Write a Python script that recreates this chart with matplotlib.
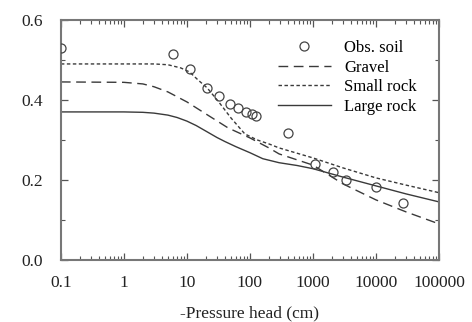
import numpy as np
import matplotlib
matplotlib.use("Agg")
import matplotlib.pyplot as plt
from matplotlib.ticker import FixedLocator, FixedFormatter, LogLocator, MultipleLocator

plt.rcParams['font.family'] = ['Liberation Serif', 'DejaVu Serif']

# observed soil data (pressure head cm, water content)
obs_h = [0.1, 6, 11, 21, 32, 48, 65, 87, 107, 125, 400, 1070, 2100, 3300, 10000, 27000]
obs_theta = [0.53, 0.515, 0.478, 0.43, 0.41, 0.39, 0.38, 0.37, 0.365, 0.36,
             0.318, 0.24, 0.22, 0.20, 0.183, 0.143]

# fitted curves
gravel_h = [0.1, 1, 2, 3, 5, 10, 20, 45, 100, 200, 290, 1000, 3000, 10000, 30000, 100000]
gravel_theta = [0.445, 0.444, 0.44, 0.433, 0.42, 0.395, 0.365, 0.33, 0.305, 0.28,
                0.265, 0.237, 0.19, 0.15, 0.12, 0.09]

small_h = [0.1, 1, 3, 5, 8, 11, 15, 21, 32, 50, 83, 130, 200, 290, 1000, 3000, 10000,
           30000, 100000]
small_theta = [0.49, 0.49, 0.49, 0.488, 0.48, 0.47, 0.45, 0.43, 0.395, 0.355, 0.315,
               0.30, 0.29, 0.28, 0.255, 0.23, 0.205, 0.187, 0.168]

large_h = [0.1, 1, 2, 3, 5, 7, 10, 14, 20, 30, 40, 60, 100, 160, 290, 560, 1000, 3000,
           10000, 30000, 100000]
large_theta = [0.37, 0.37, 0.369, 0.367, 0.362, 0.356, 0.347, 0.336, 0.322, 0.306, 0.296,
               0.283, 0.268, 0.253, 0.243, 0.236, 0.228, 0.207, 0.185, 0.165, 0.145]

xticks = [0.1, 1, 10, 100, 1000, 10000, 100000]
xticklabels = ['0.1', '1', '10', '100', '1000', '10000', '100000']
yticks = [0.0, 0.2, 0.4, 0.6]

fig = plt.figure(figsize=(4.72, 3.22), dpi=100)
ax = fig.add_axes([0.129, 0.193, 0.801, 0.745])

lc = '#3a3a3a'
ax.plot(obs_h, obs_theta, 'o', mfc='none', mec='#444444', ms=6.5, mew=0.9,
        label='Obs. soil', zorder=3)
ax.plot(gravel_h, gravel_theta, color=lc, lw=1.0, dashes=(7, 4), label='Gravel')
ax.plot(small_h, small_theta, color=lc, lw=1.0, dashes=(2.5, 1.8), label='Small rock')
ax.plot(large_h, large_theta, color=lc, lw=1.0, label='Large rock')

ax.set_xscale('log')
ax.set_xlim(0.1, 100000)
ax.set_ylim(0, 0.6)
ax.xaxis.set_major_locator(FixedLocator(xticks))
ax.xaxis.set_major_formatter(FixedFormatter(xticklabels))
ax.xaxis.set_minor_locator(LogLocator(base=10, subs=np.arange(2, 10)))
ax.xaxis.set_minor_formatter(FixedFormatter([]))
ax.set_yticks(yticks)
ax.set_yticklabels(['0.0', '0.2', '0.4', '0.6'])
ax.yaxis.set_minor_locator(MultipleLocator(0.1))

ax.tick_params(which='both', direction='in', top=True, right=True, colors='#555555',
               labelcolor='#222222', labelsize=12.5)
ax.tick_params(which='major', length=5, width=0.9)
ax.tick_params(which='minor', length=3, width=0.8)
ax.tick_params(axis='x', pad=11)
ax.tick_params(axis='y', pad=13)
for s in ax.spines.values():
    s.set_color('#777777')
    s.set_linewidth(1.5)

ax.set_xlabel('-Pressure head (cm)', fontsize=12.5, color='#222222', labelpad=10)

ax.legend(loc='upper right', frameon=False, fontsize=12, handlelength=3.2,
          labelspacing=0.22, borderaxespad=0.8, handletextpad=0.8,
          bbox_to_anchor=(0.995, 1.0))

fig.savefig('out.png', dpi=100)
